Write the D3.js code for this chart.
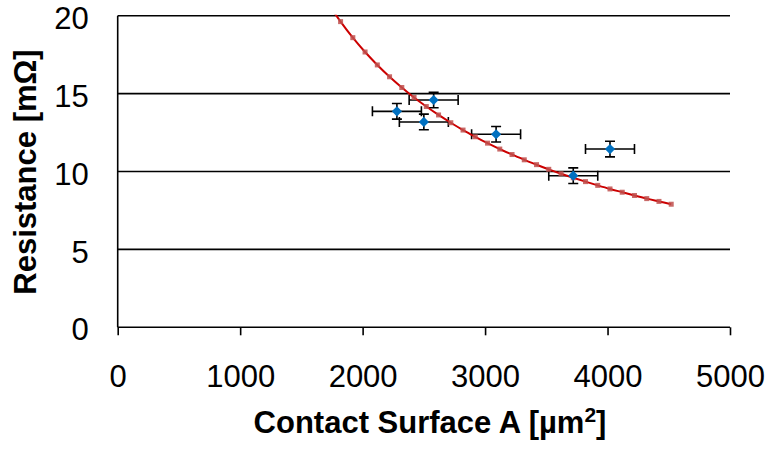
<!DOCTYPE html>
<html>
<head>
<meta charset="utf-8">
<script src="https://cdn.jsdelivr.net/npm/d3@7"></script>
<style>
  body { margin: 0; background: #fff; }
  text { font-family: "Liberation Sans", Arial, sans-serif; fill: #000; }
</style>
</head>
<body>
<div id="chart"></div>
<script>
// measured points: contact surface [um^2], resistance [mOhm]
const area = [2280, 2580, 2500, 3090, 3720, 4020];
const resistance = [13.86, 14.59, 13.18, 12.39, 9.73, 11.44];
const areaErr = [200, 200, 200, 200, 200, 200];
const resErr = [0.5, 0.5, 0.5, 0.5, 0.5, 0.5];

// fitted curve (red)
const fitArea = [1720, 1820, 1920, 2020, 2120, 2220, 2320, 2420, 2520, 2620, 2720, 2820, 2920,
    3020, 3120, 3220, 3320, 3420, 3520, 3620, 3720, 3820, 3920, 4020, 4120, 4220, 4320, 4420, 4520];
const fitRes = [20.76, 19.62, 18.59, 17.67, 16.84, 16.08, 15.39, 14.75, 14.17, 13.63, 13.13, 12.66, 12.23,
    11.82, 11.44, 11.09, 10.75, 10.44, 10.14, 9.86, 9.60, 9.35, 9.11, 8.88, 8.67, 8.46, 8.26, 8.08, 7.90];

const xTicks = [0, 1000, 2000, 3000, 4000, 5000];
const yTicks = [0, 5, 10, 15, 20];

const width = 771, height = 453;
const plotLeft = 117.7, plotRight = 730, plotTop = 15.7, plotBottom = 327.3;

const svg = d3.select("#chart")
    .append("svg")
    .attr("width", width)
    .attr("height", height);

const x = d3.scaleLinear().domain([0, 5000]).range([plotLeft, plotRight]);
const y = d3.scaleLinear().domain([0, 20]).range([plotBottom, plotTop]);

svg.append("clipPath")
    .attr("id", "plot")
    .append("rect")
    .attr("x", plotLeft)
    .attr("y", plotTop - 1)
    .attr("width", plotRight - plotLeft)
    .attr("height", plotBottom - plotTop + 1);

// gridlines
svg.append("g")
    .selectAll("line")
    .data(yTicks.filter(d => d > 0))
    .join("line")
    .attr("x1", plotLeft)
    .attr("x2", plotRight)
    .attr("y1", d => y(d))
    .attr("y2", d => y(d))
    .attr("stroke", "#000")
    .attr("stroke-width", 1.6);

// x axis
const xAxis = svg.append("g")
    .attr("transform", `translate(0,${plotBottom})`)
    .call(d3.axisBottom(x).tickValues(xTicks).tickSize(8).tickFormat(d3.format("d")));
xAxis.select(".domain").attr("stroke-width", 1.6).attr("d", `M${plotLeft},0H${plotRight}`);
xAxis.selectAll(".tick line").attr("stroke-width", 1.6);
xAxis.selectAll(".tick text")
    .attr("y", 60)
    .attr("dy", null)
    .style("font-size", "31px")
    .style("font-family", "'Liberation Sans', Arial, sans-serif");

// y axis
const yAxis = svg.append("g")
    .attr("transform", `translate(${plotLeft},0)`)
    .call(d3.axisLeft(y).tickValues(yTicks).tickSize(0).tickPadding(29));
yAxis.select(".domain").attr("stroke-width", 1.6).attr("d", `M0,${plotTop}V${plotBottom}`);
yAxis.selectAll(".tick text")
    .attr("dy", "12.6")
    .style("font-size", "31px")
    .style("font-family", "'Liberation Sans', Arial, sans-serif");

// axis titles
const xTitle = svg.append("text")
    .attr("x", 430)
    .attr("y", 433)
    .attr("text-anchor", "middle")
    .style("font-size", "31px")
    .style("font-weight", "bold");
xTitle.append("tspan").text("Contact Surface A [µm");
xTitle.append("tspan").attr("dy", -11).style("font-size", "21px").text("2");
xTitle.append("tspan").attr("dy", 11).text("]");

svg.append("text")
    .attr("transform", "translate(36,172) rotate(-90)")
    .attr("text-anchor", "middle")
    .style("font-size", "31px")
    .style("font-weight", "bold")
    .text("Resistance [mΩ]");

const pts = area.map((a, i) => ({x: a, y: resistance[i], ex: areaErr[i], ey: resErr[i]}));
const plot = svg.append("g").attr("clip-path", "url(#plot)");

// error bars
const bars = plot.append("g")
    .attr("stroke", "#000")
    .attr("stroke-width", 1.6)
    .attr("fill", "none");
pts.forEach(d => {
    const cx = x(d.x), cy = y(d.y);
    const x0 = x(d.x - d.ex), x1 = x(d.x + d.ex);
    const y0 = y(d.y - d.ey), y1 = y(d.y + d.ey);
    bars.append("path")
        .attr("d", `M${x0},${cy}H${x1}M${x0},${cy - 5}V${cy + 5}M${x1},${cy - 5}V${cy + 5}` +
            `M${cx},${y0}V${y1}M${cx - 5},${y0}H${cx + 5}M${cx - 5},${y1}H${cx + 5}`);
});

// fitted curve
const fit = fitArea.map((a, i) => [a, fitRes[i]]);
plot.append("path")
    .attr("d", d3.line().x(d => x(d[0])).y(d => y(d[1])).curve(d3.curveCatmullRom)(fit))
    .attr("fill", "none")
    .attr("stroke", "#cc0000")
    .attr("stroke-width", 2);

plot.append("g")
    .selectAll("rect")
    .data(fit)
    .join("rect")
    .attr("x", d => x(d[0]) - 2.5)
    .attr("y", d => y(d[1]) - 2.5)
    .attr("width", 5)
    .attr("height", 5)
    .attr("fill", "#c0504d")
    .attr("opacity", 0.85);

// data markers
plot.append("g")
    .selectAll("path")
    .data(pts)
    .join("path")
    .attr("transform", d => `translate(${x(d.x)},${y(d.y)}) rotate(45)`)
    .attr("d", "M-3.6,-3.6H3.6V3.6H-3.6Z")
    .attr("fill", "#0070c0");
</script>
</body>
</html>
